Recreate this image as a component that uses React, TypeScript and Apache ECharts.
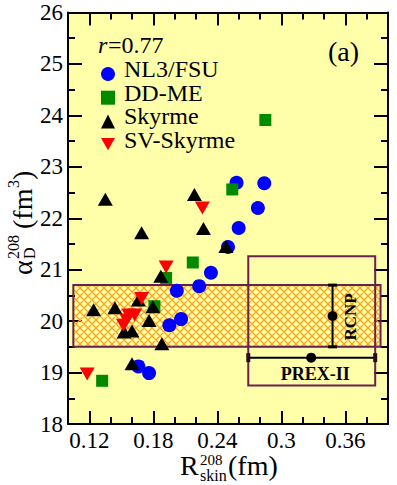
import React, { useEffect, useRef } from 'react';
import * as echarts from 'echarts';

// ---- data ----
const nl3fsu: number[][] = [
  [0.258, 22.69], [0.284, 22.68], [0.278, 22.2], [0.26, 21.81], [0.25, 21.44],
  [0.234, 20.94], [0.223, 20.68], [0.202, 20.59], [0.206, 20.04], [0.195, 19.92],
  [0.166, 19.12], [0.176, 18.99],
];
const ddme: number[][] = [
  [0.285, 23.91], [0.254, 22.56], [0.217, 21.14], [0.192, 20.84], [0.181, 20.29], [0.132, 18.84],
];
const skyrme: number[][] = [
  [0.135, 22.37], [0.169, 21.72], [0.2185, 22.46], [0.227, 21.8], [0.248, 21.45],
  [0.187, 20.87], [0.124, 20.22], [0.144, 20.26], [0.166, 20.41], [0.1795, 20.28],
  [0.176, 20.01], [0.1526, 19.79], [0.16, 19.81], [0.188, 19.56], [0.16, 19.17],
];
const svSkyrme: number[][] = [
  [0.226, 22.2], [0.192, 21.05], [0.169, 20.44], [0.157, 20.12], [0.1625, 20.12],
  [0.152, 19.92], [0.155, 20.02], [0.118, 18.97],
];
const seriesNames = ['NL3/FSU', 'DD-ME', 'Skyrme', 'SV-Skyrme'];
const xMajorTicks = [0.12, 0.18, 0.24, 0.3, 0.36];
const yTickLabels = [18, 19, 20, 21, 22, 23, 24, 25, 26];
const xRange = [0.1, 0.4];
const yRange = [18, 26];
// [xLeft, yBottom, xRight, yTop]
const rcnpBand = [0.105, 19.5, 0.393, 20.7];
const prexBox = [0.269, 18.75, 0.388, 21.26];
// RCNP: [x, y, yLow, yHigh]; PREX-II: [x, y, xLow, xHigh]
const rcnpBar = [0.348, 20.1, 19.5, 20.7];
const prexBar = [0.328, 19.29, 0.269, 0.388];
const rcnpLabel = 'RCNP';
const prexLabel = 'PREX-II';
const correlationText = '=0.77';
const panelLabel = '(a)';

const SERIF = 'Liberation Serif';
const MAROON = '#6d1f4f';
const LEGEND_TOP = 62;
const LEGEND_ICON = 14;
const LEGEND_GAP = 9.7;

function makeHatch(): string {
  const c = document.createElement('canvas');
  c.width = 8;
  c.height = 8;
  const g = c.getContext('2d')!;
  g.strokeStyle = '#ffa11a';
  g.lineWidth = 1.3;
  g.beginPath();
  for (const o of [-8, 0, 8]) {
    g.moveTo(-1 + o, -1);
    g.lineTo(9 + o, 9);
    g.moveTo(9 + o, -1);
    g.lineTo(-1 + o, 9);
  }
  g.stroke();
  return c.toDataURL();
}

const txt = (text: string, x: number, y: number, size: number, extra: any = {}) => ({
  type: 'text', x, y,
  style: {
    text, font: `${extra.prefix || ''}${size}px "${SERIF}"`, fill: '#000',
    align: extra.align || 'left', textAlign: extra.align || 'left',
    verticalAlign: 'middle', textVerticalAlign: 'middle',
    lineHeight: extra.lineHeight,
  },
});

export default function App() {
  const ref = useRef<HTMLDivElement>(null);
  useEffect(() => {
    document.body.style.margin = '0';
    const chart = echarts.init(ref.current!, undefined, { renderer: 'svg' });
    const hatch = { image: makeHatch(), repeat: 'repeat', imageWidth: 8, imageHeight: 8 };

    const tickStyle = { color: '#000', width: 2 };
    const baseX = {
      type: 'value', min: xRange[0], max: xRange[1], splitLine: { show: false },
    };

    const rectRender = (fill: any) => (params: any, api: any) => {
      const p1 = api.coord([api.value(0), api.value(3)]);
      const p2 = api.coord([api.value(2), api.value(1)]);
      return {
        type: 'rect',
        shape: { x: p1[0], y: p1[1], width: p2[0] - p1[0], height: p2[1] - p1[1] },
        style: { fill, stroke: MAROON, lineWidth: 2 },
      };
    };

    const option: any = {
      animation: false,
      grid: {
        left: 68, right: 9, top: 12.5, bottom: 61,
        show: true, backgroundColor: '#ffffaa', borderWidth: 0,
        containLabel: false, outerBoundsMode: 'none',
      },
      xAxis: [
        {
          ...baseX, position: 'bottom',
          axisLine: { show: true, onZero: false, lineStyle: tickStyle },
          axisTick: { show: true, inside: true, length: 13, lineStyle: tickStyle, customValues: xMajorTicks },
          axisLabel: { show: false },
        },
        {
          ...baseX, position: 'bottom', interval: 0.02,
          axisLine: { show: false },
          axisTick: { show: true, inside: true, length: 7, lineStyle: tickStyle },
          axisLabel: { show: false },
        },
        {
          ...baseX, position: 'top',
          axisLine: { show: true, onZero: false, lineStyle: tickStyle },
          axisTick: { show: true, inside: true, length: 13, lineStyle: tickStyle, customValues: xMajorTicks },
          axisLabel: { show: false },
        },
        {
          ...baseX, position: 'top', interval: 0.02,
          axisLine: { show: false },
          axisTick: { show: true, inside: true, length: 7, lineStyle: tickStyle },
          axisLabel: { show: false },
        },
      ],
      yAxis: [0, 1].map((i) => ({
        type: 'value', min: yRange[0], max: yRange[1], interval: 1,
        position: i === 0 ? 'left' : 'right',
        axisLine: { show: true, onZero: false, lineStyle: tickStyle },
        axisTick: { show: true, inside: true, length: 14, lineStyle: tickStyle },
        minorTick: { show: true, splitNumber: 2, length: 7, lineStyle: tickStyle },
        axisLabel: { show: false },
        splitLine: { show: false },
        minorSplitLine: { show: false },
      })),
      legend: {
        data: seriesNames,
        orient: 'vertical',
        left: 96, top: LEGEND_TOP,
        itemWidth: LEGEND_ICON, itemHeight: LEGEND_ICON, itemGap: LEGEND_GAP,
        formatter: () => '',
        textStyle: { fontSize: 1, lineHeight: 1, color: '#000' },
      },
      series: [
        {
          type: 'custom', name: 'band', z: 1, data: [rcnpBand],
          encode: { x: [0, 2], y: [1, 3] },
          renderItem: rectRender(hatch),
        },
        {
          type: 'custom', name: 'box', z: 1, data: [prexBox],
          encode: { x: [0, 2], y: [1, 3] },
          renderItem: rectRender('none'),
        },
        {
          type: 'scatter', name: seriesNames[0], z: 3, data: nl3fsu,
          symbol: 'circle', symbolSize: 14, itemStyle: { color: '#0000ff', opacity: 1 },
        },
        {
          type: 'scatter', name: seriesNames[1], z: 3, data: ddme,
          symbol: 'rect', symbolSize: 12, itemStyle: { color: '#008a00', opacity: 1 },
        },
        {
          type: 'scatter', name: seriesNames[2], z: 3, data: skyrme,
          symbol: 'triangle', symbolSize: [15, 13], itemStyle: { color: '#000', opacity: 1 },
        },
        {
          type: 'scatter', name: seriesNames[3], z: 3, data: svSkyrme,
          symbol: 'path://M0,0L10,0L5,8.7Z', symbolSize: [15, 13],
          itemStyle: { color: '#ff0000', opacity: 1 },
        },
        {
          type: 'custom', name: 'rcnp', z: 4, data: [rcnpBar],
          encode: { x: 0, y: [1, 2, 3] },
          renderItem: (params: any, api: any) => {
            const c = api.coord([api.value(0), api.value(1)]);
            const lo = api.coord([api.value(0), api.value(2)]);
            const hi = api.coord([api.value(0), api.value(3)]);
            return {
              type: 'group',
              children: [
                { type: 'line', shape: { x1: c[0], y1: lo[1], x2: c[0], y2: hi[1] }, style: { stroke: '#000', lineWidth: 2 } },
                { type: 'line', shape: { x1: c[0] - 4.5, y1: lo[1], x2: c[0] + 4.5, y2: lo[1] }, style: { stroke: '#000', lineWidth: 3 } },
                { type: 'line', shape: { x1: c[0] - 4.5, y1: hi[1], x2: c[0] + 4.5, y2: hi[1] }, style: { stroke: '#000', lineWidth: 3 } },
                { type: 'circle', shape: { cx: c[0], cy: c[1], r: 5 }, style: { fill: '#000' } },
                {
                  type: 'text', x: c[0] + 18, y: c[1] + 1, rotation: Math.PI / 2,
                  style: {
                    text: rcnpLabel, font: `bold 17px "${SERIF}"`, fill: '#000',
                    align: 'center', verticalAlign: 'middle', textAlign: 'center', textVerticalAlign: 'middle',
                  },
                },
              ],
            };
          },
        },
        {
          type: 'custom', name: 'prex', z: 4, data: [prexBar],
          encode: { x: [0, 2, 3], y: 1 },
          renderItem: (params: any, api: any) => {
            const c = api.coord([api.value(0), api.value(1)]);
            const lo = api.coord([api.value(2), api.value(1)]);
            const hi = api.coord([api.value(3), api.value(1)]);
            return {
              type: 'group',
              children: [
                { type: 'line', shape: { x1: lo[0], y1: c[1], x2: hi[0], y2: c[1] }, style: { stroke: '#000', lineWidth: 2 } },
                { type: 'line', shape: { x1: lo[0], y1: c[1] - 4.5, x2: lo[0], y2: c[1] + 4.5 }, style: { stroke: '#2a0a20', lineWidth: 4 } },
                { type: 'line', shape: { x1: hi[0], y1: c[1] - 4.5, x2: hi[0], y2: c[1] + 4.5 }, style: { stroke: '#2a0a20', lineWidth: 4 } },
                { type: 'circle', shape: { cx: c[0], cy: c[1], r: 5 }, style: { fill: '#000' } },
                {
                  type: 'text', x: c[0] + 4, y: c[1] + 16.5,
                  style: {
                    text: prexLabel, font: `bold 18px "${SERIF}"`, fill: '#000',
                    align: 'center', verticalAlign: 'middle', textAlign: 'center', textVerticalAlign: 'middle',
                  },
                },
              ],
            };
          },
        },
      ],
    };
    chart.setOption(option);

    // Tick labels placed through the axes' own scales.
    const xLabelY = chart.convertToPixel({ yAxisIndex: 0 }, yRange[0]) + 16.5;
    const yLabelX = chart.convertToPixel({ xAxisIndex: 0 }, xRange[0]) - 5;
    const xTickTexts = xMajorTicks.map((v) =>
      txt(String(Math.round(v * 100) / 100), chart.convertToPixel({ xAxisIndex: 0 }, v), xLabelY, 23, { align: 'center', lineHeight: 20 }),
    );
    const yTickTexts = yTickLabels.map((v) =>
      txt(String(v), yLabelX, chart.convertToPixel({ yAxisIndex: 0 }, v), 23, { align: 'right', lineHeight: 20 }),
    );
    const legendTexts = seriesNames.map((n, i) =>
      txt(n, 124, LEGEND_TOP + LEGEND_ICON / 2 + i * (LEGEND_ICON + LEGEND_GAP), 24, { lineHeight: 20 }),
    );

    chart.setOption({
      graphic: [
        ...xTickTexts,
        ...yTickTexts,
        ...legendTexts,
        // correlation coefficient
        {
          type: 'group', x: 98, y: 45,
          children: [
            txt('r', 0, 0, 24, { prefix: 'italic ', lineHeight: 17 }),
            txt(correlationText, 10, 0, 24, { lineHeight: 17 }),
          ],
        },
        txt(panelLabel, 328, 51.5, 28),
        // x-axis title
        {
          type: 'group', x: 180, y: 465,
          children: [
            txt('R', 0, 0, 28),
            txt('208', 20, -5, 15, { lineHeight: 10 }),
            txt('skin', 20, 10, 16, { lineHeight: 12 }),
            txt('(fm)', 48, 0, 28),
          ],
        },
        // y-axis title (rotated)
        {
          type: 'group', x: 22, y: 275, rotation: Math.PI / 2,
          children: [
            txt('α', 0, 0, 28),
            txt('208', 16, -9, 16, { lineHeight: 12 }),
            txt('D', 16, 7, 16, { lineHeight: 12 }),
            txt('(fm', 46, 0, 28),
            txt('3', 87, -9, 16, { lineHeight: 12 }),
            txt(')', 95, 0, 28),
          ],
        },
      ],
    });
    return () => chart.dispose();
  }, []);
  return <div ref={ref} style={{ position: 'absolute', left: 0, top: 0, width: 397, height: 485 }} />;
}
